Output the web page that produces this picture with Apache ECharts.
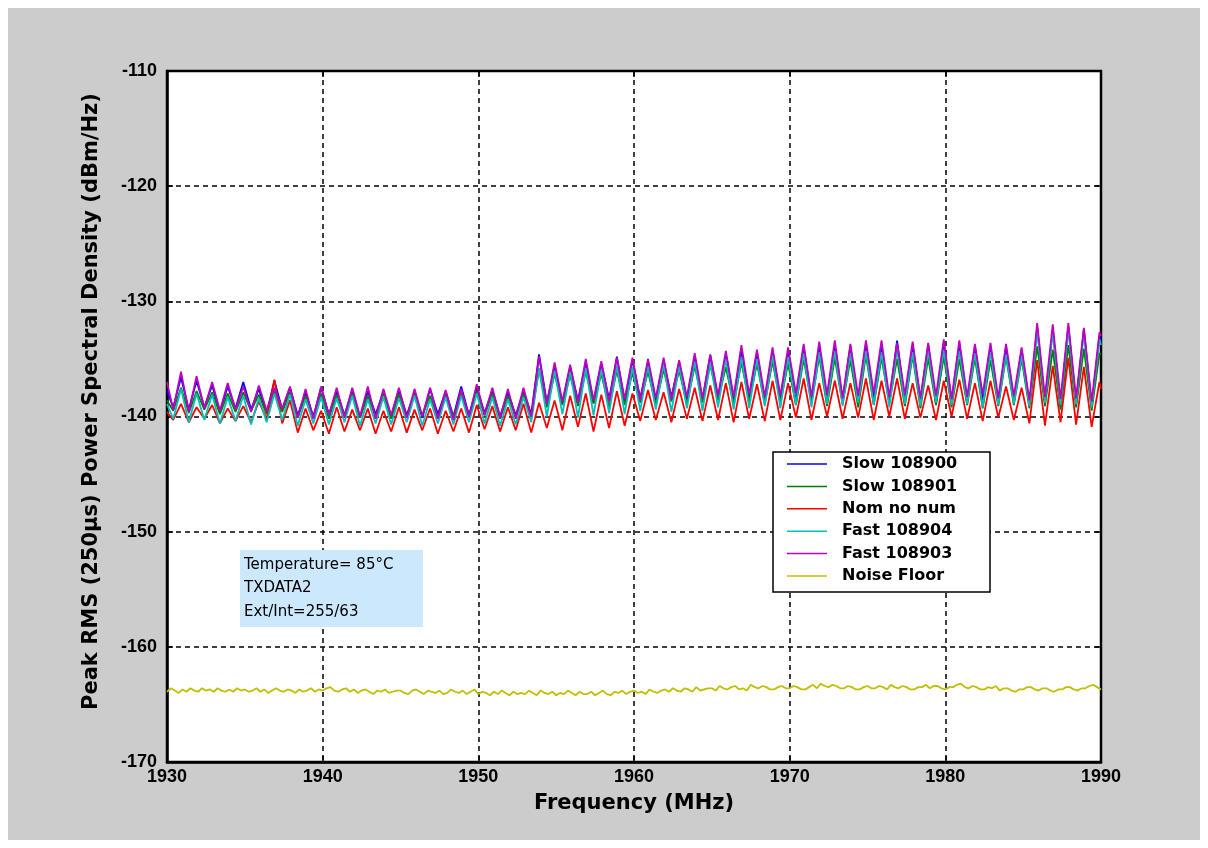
<!DOCTYPE html>
<html>
<head>
<meta charset="utf-8">
<title>Peak RMS Power Spectral Density</title>
<script src="https://cdn.jsdelivr.net/npm/echarts@6/dist/echarts.min.js"></script>
<style>
  html, body { margin: 0; padding: 0; background: #ffffff; }
  #frame { position: absolute; left: 8px; top: 8px; width: 1192px; height: 832px; background: #cccccc; }
  #chart { position: absolute; left: 0; top: 0; width: 1208px; height: 848px; }
</style>
</head>
<body>
<div id="frame"></div>
<div id="chart"></div>
<script>
// Frequency grid (MHz) for the measured traces: start, then trough / peak of each ripple, then end
const freqGrid = [1930,
  1930.4,1930.9,1931.4,1931.9,1932.4,1932.9,1933.4,1933.9,1934.4,1934.9,
  1935.4,1935.9,1936.4,1936.9,1937.4,1937.9,1938.4,1938.9,1939.4,1939.9,
  1940.4,1940.9,1941.4,1941.9,1942.4,1942.9,1943.4,1943.9,1944.4,1944.9,
  1945.4,1945.9,1946.4,1946.9,1947.4,1947.9,1948.4,1948.9,1949.4,1949.9,
  1950.4,1950.9,1951.4,1951.9,1952.4,1952.9,1953.4,1953.9,1954.4,1954.9,
  1955.4,1955.9,1956.4,1956.9,1957.4,1957.9,1958.4,1958.9,1959.4,1959.9,
  1960.4,1960.9,1961.4,1961.9,1962.4,1962.9,1963.4,1963.9,1964.4,1964.9,
  1965.4,1965.9,1966.4,1966.9,1967.4,1967.9,1968.4,1968.9,1969.4,1969.9,
  1970.4,1970.9,1971.4,1971.9,1972.4,1972.9,1973.4,1973.9,1974.4,1974.9,
  1975.4,1975.9,1976.4,1976.9,1977.4,1977.9,1978.4,1978.9,1979.4,1979.9,
  1980.4,1980.9,1981.4,1981.9,1982.4,1982.9,1983.4,1983.9,1984.4,1984.9,
  1985.4,1985.9,1986.4,1986.9,1987.4,1987.9,1988.4,1988.9,1989.4,1989.9,
  1990];

// Slow 108900 (dBm/Hz)
const slow108900 = [-137.8,
  -139.2,-136.6,-139.4,-136.9,-139.2,-137.3,-139.6,-137.4,-139.3,-137.0,
  -139.4,-137.6,-139.7,-136.9,-139.4,-137.5,-139.9,-137.9,-140.0,-137.5,
  -139.8,-137.8,-139.9,-137.7,-140.1,-137.8,-139.8,-137.9,-140.0,-137.7,
  -139.9,-137.9,-140.1,-137.6,-139.8,-137.8,-140.0,-137.4,-139.9,-137.5,
  -139.7,-137.7,-140.0,-137.9,-139.9,-137.8,-139.8,-134.6,-138.8,-135.6,
  -138.9,-135.7,-138.6,-135.3,-138.8,-135.4,-138.5,-134.8,-138.7,-135.1,
  -138.4,-135.3,-138.6,-135.2,-138.3,-135.3,-138.5,-134.8,-138.6,-134.7,
  -138.4,-134.6,-138.5,-134.3,-138.3,-134.5,-138.6,-134.3,-138.4,-134.4,
  -138.7,-134.0,-138.5,-133.9,-138.8,-133.8,-138.6,-133.9,-138.9,-133.7,
  -138.5,-133.9,-138.7,-133.4,-138.8,-133.8,-138.6,-133.8,-138.9,-133.6,
  -138.7,-133.7,-138.8,-133.9,-138.6,-133.9,-138.9,-134.0,-138.7,-134.2,
  -139.0,-132.3,-138.8,-132.5,-139.1,-132.2,-138.9,-132.4,-139.2,-133.0,
  -133.5];

// Slow 108901 (dBm/Hz)
const slow108901 = [-138.6,
  -139.5,-137.5,-139.7,-137.8,-139.4,-137.9,-139.8,-138.0,-139.6,-137.9,
  -139.5,-138.1,-139.8,-137.8,-139.6,-137.9,-140.1,-138.2,-140.0,-138.0,
  -140.2,-138.1,-139.9,-138.0,-140.1,-138.2,-140.0,-137.9,-140.2,-138.1,
  -140.1,-138.0,-139.9,-138.2,-140.2,-138.1,-140.0,-137.9,-140.1,-137.8,
  -139.9,-138.0,-140.2,-138.2,-140.0,-138.0,-140.1,-135.9,-139.2,-136.3,
  -139.0,-136.4,-139.1,-136.1,-138.9,-136.3,-139.2,-136.0,-139.0,-136.2,
  -138.8,-136.1,-139.0,-135.9,-138.7,-136.0,-138.9,-135.6,-138.8,-135.5,
  -138.6,-135.7,-138.9,-135.3,-138.7,-135.4,-138.9,-135.2,-138.8,-135.4,
  -139.0,-135.0,-138.8,-134.8,-139.1,-134.9,-138.9,-135.1,-139.2,-134.7,
  -139.0,-134.9,-138.8,-135.0,-139.1,-134.7,-139.3,-134.9,-139.0,-134.8,
  -139.2,-135.0,-139.0,-134.9,-139.3,-135.1,-139.1,-134.8,-139.0,-135.0,
  -139.3,-133.9,-139.1,-134.2,-139.4,-133.8,-139.2,-134.1,-139.5,-134.5,
  -134.6];

// Nom no num (dBm/Hz)
const nomNoNum = [-139.6,
  -140.3,-138.9,-140.5,-139.2,-140.2,-139.0,-140.6,-139.3,-140.4,-139.1,
  -140.5,-138.7,-140.2,-136.8,-140.6,-138.6,-141.4,-139.3,-141.2,-139.5,
  -141.5,-139.2,-141.3,-139.4,-141.2,-139.3,-141.5,-139.5,-141.3,-139.2,
  -141.4,-139.4,-141.2,-139.3,-141.5,-139.5,-141.3,-139.3,-141.4,-139.0,
  -141.1,-139.1,-141.3,-139.2,-141.2,-138.9,-141.4,-138.8,-141.0,-138.6,
  -141.2,-138.2,-140.9,-138.0,-141.3,-138.1,-141.0,-137.8,-140.8,-138.0,
  -140.4,-137.7,-140.3,-137.9,-140.5,-137.6,-140.2,-137.5,-140.4,-137.3,
  -140.3,-137.1,-140.5,-137.0,-140.2,-137.2,-140.4,-136.9,-140.3,-137.1,
  -140.1,-136.7,-140.3,-137.1,-140.0,-136.9,-140.2,-137.1,-140.1,-136.7,
  -140.3,-136.9,-140.0,-136.7,-140.2,-137.1,-140.1,-137.3,-140.3,-136.9,
  -140.0,-136.8,-140.2,-137.1,-140.4,-136.9,-140.1,-137.4,-140.3,-137.5,
  -140.6,-135.1,-140.8,-135.6,-140.5,-134.9,-140.7,-135.7,-140.9,-137.0,
  -137.6];

// Fast 108904 (dBm/Hz)
const fast108904 = [-138.9,
  -140.2,-137.6,-140.5,-138.0,-140.3,-138.1,-140.6,-138.3,-140.4,-138.2,
  -140.7,-138.4,-140.5,-138.0,-140.3,-138.1,-140.8,-138.5,-140.6,-138.3,
  -140.7,-138.4,-140.5,-138.2,-140.8,-138.5,-140.6,-138.3,-140.7,-138.4,
  -140.5,-138.2,-140.8,-138.5,-140.6,-138.3,-140.7,-138.2,-140.5,-138.0,
  -140.6,-138.3,-140.8,-138.5,-140.7,-138.3,-140.5,-135.8,-140.0,-136.0,
  -139.8,-136.1,-140.1,-135.8,-139.9,-135.9,-139.7,-135.6,-139.8,-135.7,
  -139.5,-135.6,-139.4,-135.4,-139.6,-135.6,-139.3,-135.2,-139.5,-135.3,
  -139.2,-135.0,-139.4,-134.8,-139.3,-135.0,-139.1,-134.7,-139.3,-134.8,
  -139.0,-134.5,-139.2,-134.4,-138.9,-134.3,-139.1,-134.5,-138.8,-134.3,
  -139.0,-134.4,-139.2,-134.2,-138.9,-134.4,-139.1,-134.3,-138.8,-134.2,
  -139.0,-134.3,-138.9,-134.5,-139.2,-134.4,-139.0,-134.6,-138.9,-134.7,
  -139.1,-132.5,-138.8,-132.6,-139.0,-132.4,-138.9,-132.7,-139.2,-133.3,
  -133.8];

// Fast 108903 (dBm/Hz)
const fast108903 = [-137.0,
  -139.4,-136.1,-139.6,-136.5,-139.3,-137.0,-139.5,-137.1,-139.4,-137.4,
  -139.6,-137.3,-139.5,-137.5,-139.3,-137.4,-140.1,-137.6,-140.2,-137.4,
  -139.9,-137.5,-140.1,-137.5,-140.0,-137.4,-140.2,-137.6,-139.9,-137.5,
  -140.1,-137.6,-140.0,-137.5,-140.2,-137.7,-140.3,-137.6,-140.0,-137.2,
  -139.9,-137.5,-140.1,-137.6,-140.2,-137.5,-140.0,-134.8,-138.9,-135.3,
  -138.7,-135.5,-138.8,-135.0,-138.6,-135.2,-138.7,-134.9,-138.5,-134.9,
  -138.6,-135.0,-138.4,-134.9,-138.5,-135.1,-138.3,-134.5,-138.4,-134.6,
  -138.2,-134.3,-138.3,-133.8,-138.1,-134.2,-138.3,-134.0,-138.2,-134.0,
  -138.0,-133.7,-138.3,-133.5,-138.1,-133.4,-138.4,-133.7,-138.2,-133.4,
  -138.0,-133.4,-138.3,-133.6,-138.1,-133.5,-138.4,-133.6,-138.2,-133.3,
  -138.5,-133.4,-138.3,-133.7,-138.1,-133.6,-138.4,-133.7,-138.2,-134.0,
  -138.6,-131.9,-138.3,-132.0,-138.5,-131.9,-138.4,-132.3,-138.7,-132.7,
  -133.0];

// Noise floor, sampled every 0.25 MHz
const noiseFreq = [
  1930,1930.25,1930.5,1930.75,1931,1931.25,1931.5,1931.75,1932,1932.25,1932.5,1932.75,1933,1933.25,1933.5,1933.75,1934,1934.25,1934.5,1934.75,
  1935,1935.25,1935.5,1935.75,1936,1936.25,1936.5,1936.75,1937,1937.25,1937.5,1937.75,1938,1938.25,1938.5,1938.75,1939,1939.25,1939.5,1939.75,
  1940,1940.25,1940.5,1940.75,1941,1941.25,1941.5,1941.75,1942,1942.25,1942.5,1942.75,1943,1943.25,1943.5,1943.75,1944,1944.25,1944.5,1944.75,
  1945,1945.25,1945.5,1945.75,1946,1946.25,1946.5,1946.75,1947,1947.25,1947.5,1947.75,1948,1948.25,1948.5,1948.75,1949,1949.25,1949.5,1949.75,
  1950,1950.25,1950.5,1950.75,1951,1951.25,1951.5,1951.75,1952,1952.25,1952.5,1952.75,1953,1953.25,1953.5,1953.75,1954,1954.25,1954.5,1954.75,
  1955,1955.25,1955.5,1955.75,1956,1956.25,1956.5,1956.75,1957,1957.25,1957.5,1957.75,1958,1958.25,1958.5,1958.75,1959,1959.25,1959.5,1959.75,
  1960,1960.25,1960.5,1960.75,1961,1961.25,1961.5,1961.75,1962,1962.25,1962.5,1962.75,1963,1963.25,1963.5,1963.75,1964,1964.25,1964.5,1964.75,
  1965,1965.25,1965.5,1965.75,1966,1966.25,1966.5,1966.75,1967,1967.25,1967.5,1967.75,1968,1968.25,1968.5,1968.75,1969,1969.25,1969.5,1969.75,
  1970,1970.25,1970.5,1970.75,1971,1971.25,1971.5,1971.75,1972,1972.25,1972.5,1972.75,1973,1973.25,1973.5,1973.75,1974,1974.25,1974.5,1974.75,
  1975,1975.25,1975.5,1975.75,1976,1976.25,1976.5,1976.75,1977,1977.25,1977.5,1977.75,1978,1978.25,1978.5,1978.75,1979,1979.25,1979.5,1979.75,
  1980,1980.25,1980.5,1980.75,1981,1981.25,1981.5,1981.75,1982,1982.25,1982.5,1982.75,1983,1983.25,1983.5,1983.75,1984,1984.25,1984.5,1984.75,
  1985,1985.25,1985.5,1985.75,1986,1986.25,1986.5,1986.75,1987,1987.25,1987.5,1987.75,1988,1988.25,1988.5,1988.75,1989,1989.25,1989.5,1989.75,
  1990];
const noiseFloor = [
  -163.9,-163.6,-163.8,-164.0,-163.7,-163.9,-163.6,-163.8,-163.9,-163.6,-163.8,-163.7,-163.9,-163.6,-163.8,-163.9,-163.7,-163.9,-163.6,-163.8,
  -163.7,-163.9,-163.8,-163.6,-163.9,-163.7,-164.0,-163.8,-163.6,-163.8,-163.9,-163.7,-163.8,-164.0,-163.7,-163.9,-163.8,-163.6,-163.9,-163.7,
  -163.8,-163.6,-163.5,-163.8,-163.9,-163.7,-163.6,-163.9,-163.7,-164.0,-163.8,-163.7,-163.9,-164.1,-163.8,-163.9,-163.7,-164.0,-163.9,-163.8,
  -163.8,-164.0,-164.1,-163.8,-163.7,-163.9,-164.1,-163.8,-163.9,-164.0,-163.8,-164.1,-164.0,-163.7,-163.9,-164.0,-163.8,-164.1,-163.9,-163.7,
  -164.1,-163.9,-164.0,-164.2,-163.9,-164.1,-163.8,-164.0,-164.2,-163.9,-164.1,-164.0,-164.1,-163.8,-164.0,-164.2,-163.8,-164.0,-164.1,-163.9,
  -164.2,-164.0,-164.1,-163.8,-164.0,-164.2,-163.9,-164.1,-164.1,-163.9,-164.2,-164.0,-163.8,-164.1,-164.2,-163.9,-164.0,-163.8,-164.1,-163.9,
  -163.8,-164.0,-163.9,-164.1,-163.7,-163.9,-164.0,-163.8,-163.7,-163.9,-163.6,-163.8,-163.9,-163.6,-163.7,-163.9,-163.5,-163.8,-163.7,-163.6,
  -163.6,-163.8,-163.4,-163.6,-163.7,-163.5,-163.4,-163.7,-163.6,-163.8,-163.3,-163.5,-163.6,-163.4,-163.5,-163.7,-163.7,-163.5,-163.4,-163.6,
  -163.6,-163.4,-163.5,-163.7,-163.7,-163.5,-163.3,-163.6,-163.2,-163.4,-163.5,-163.3,-163.4,-163.6,-163.6,-163.4,-163.5,-163.7,-163.7,-163.5,
  -163.4,-163.6,-163.6,-163.4,-163.5,-163.7,-163.3,-163.5,-163.6,-163.4,-163.5,-163.7,-163.7,-163.5,-163.5,-163.3,-163.6,-163.4,-163.4,-163.6,
  -163.7,-163.5,-163.5,-163.3,-163.2,-163.5,-163.6,-163.4,-163.5,-163.7,-163.7,-163.5,-163.6,-163.4,-163.8,-163.6,-163.6,-163.8,-163.9,-163.7,
  -163.7,-163.5,-163.5,-163.7,-163.8,-163.6,-163.6,-163.8,-163.9,-163.7,-163.7,-163.5,-163.5,-163.7,-163.8,-163.6,-163.6,-163.4,-163.3,-163.5,
  -163.7];

// Axis ranges
const freqTicks = [1930, 1940, 1950, 1960, 1970, 1980, 1990];
const psdTicks = [-170, -160, -150, -140, -130, -120, -110];

// Annotation lines
const noteLines = ['Temperature= 85°C', 'TXDATA2', 'Ext/Int=255/63'];

const traces = [
  { name: 'Slow 108900', color: '#0000ff', x: freqGrid, y: slow108900 },
  { name: 'Slow 108901', color: '#008000', x: freqGrid, y: slow108901 },
  { name: 'Nom no num',  color: '#ff0000', x: freqGrid, y: nomNoNum },
  { name: 'Fast 108904', color: '#00bfbf', x: freqGrid, y: fast108904 },
  { name: 'Fast 108903', color: '#bf00bf', x: freqGrid, y: fast108903 },
  { name: 'Noise Floor', color: '#bfbf00', x: noiseFreq, y: noiseFloor }
];

const chart = echarts.init(document.getElementById('chart'), null, { renderer: 'canvas' });

const tickFont = { color: '#000', fontFamily: 'Liberation Sans', fontWeight: 'bold', fontSize: 18 };
const titleFont = { color: '#000', fontFamily: 'DejaVu Sans', fontWeight: 'bold', fontSize: 21 };

const boxAxis = (extra) => Object.assign({
  type: 'value',
  axisLine: { show: false },
  axisTick: { show: true, inside: true, length: 6, lineStyle: { color: '#000', width: 1.5 } },
  axisLabel: { show: false },
  splitLine: { show: false }
}, extra);

const option = {
  animation: false,
  backgroundColor: 'transparent',
  grid: {
    left: 167, top: 71, width: 934, height: 691,
    show: true, backgroundColor: '#ffffff', borderColor: '#000', borderWidth: 2.5,
    containLabel: false, outerBoundsMode: 'none'
  },
  xAxis: [
    {
      type: 'value', min: freqTicks[0], max: freqTicks[freqTicks.length - 1], interval: 10,
      position: 'bottom',
      axisLine: { show: true, onZero: false, lineStyle: { color: '#000', width: 2.5 } },
      axisTick: { show: true, inside: true, length: 6, lineStyle: { color: '#000', width: 1.5 } },
      axisLabel: Object.assign({ margin: 6, showMinLabel: true, showMaxLabel: true, formatter: v => String(v) }, tickFont),
      splitLine: { show: true, lineStyle: { color: '#000', type: [5, 4], width: 1.5 } },
      name: 'Frequency (MHz)', nameLocation: 'middle', nameGap: 31, nameTextStyle: titleFont
    },
    boxAxis({ min: freqTicks[0], max: freqTicks[freqTicks.length - 1], interval: 10, position: 'top' })
  ],
  yAxis: [
    {
      type: 'value', min: psdTicks[0], max: psdTicks[psdTicks.length - 1], interval: 10,
      position: 'left',
      axisLine: { show: true, onZero: false, lineStyle: { color: '#000', width: 2.5 } },
      axisTick: { show: true, inside: true, length: 6, lineStyle: { color: '#000', width: 1.5 } },
      axisLabel: Object.assign({ margin: 10, showMinLabel: true, showMaxLabel: true, formatter: v => String(v) }, tickFont),
      splitLine: { show: true, lineStyle: { color: '#000', type: [5, 4], width: 1.5 } },
      name: 'Peak RMS (250µs) Power Spectral Density (dBm/Hz)',
      nameLocation: 'middle', nameGap: 65,
      nameTextStyle: Object.assign({ padding: [0, 0, 0, 30] }, titleFont)
    },
    boxAxis({ min: psdTicks[0], max: psdTicks[psdTicks.length - 1], interval: 10, position: 'right' })
  ],
  legend: {
    orient: 'vertical', left: 787, top: 456,
    icon: 'rect', itemWidth: 40, itemHeight: 1.5, itemGap: 6.4, padding: 0,
    selectedMode: false, z: 4,
    textStyle: { color: '#000', fontFamily: 'DejaVu Sans', fontWeight: 'bold', fontSize: 16, lineHeight: 16, padding: [0, 0, 0, 10] },
    data: traces.map(t => t.name)
  },
  graphic: [
    { type: 'rect', z: 3, shape: { x: 773, y: 452, width: 217, height: 140 },
      style: { fill: '#ffffff', stroke: '#000', lineWidth: 1.5 } },
    { type: 'rect', z: 5, shape: { x: 240, y: 550, width: 183, height: 77 },
      style: { fill: '#cce8fd' } }
  ].concat(noteLines.map((line, i) => ({
    type: 'text', z: 6, x: 244, y: 565 + i * 23.5,
    style: { text: line, fill: '#000', font: '15px "DejaVu Sans"', verticalAlign: 'middle', align: 'left' }
  }))),
  series: traces.map(t => ({
    name: t.name,
    type: 'line',
    data: t.x.map((f, i) => [f, t.y[i]]),
    symbol: 'none',
    showSymbol: false,
    clip: true,
    color: t.color,
    itemStyle: { color: t.color },
    lineStyle: { color: t.color, width: 1.8 },
    emphasis: { disabled: true },
    z: 2
  }))
};

chart.setOption(option);
</script>
</body>
</html>
